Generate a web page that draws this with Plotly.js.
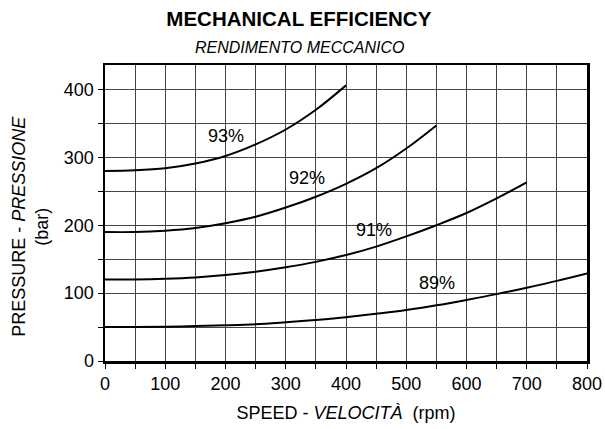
<!DOCTYPE html>
<html>
<head>
<meta charset="utf-8">
<script src="https://cdn.plot.ly/plotly-3.0.1.min.js"></script>
<style>html,body{margin:0;padding:0;background:#fff;}#chart{width:605px;height:429px;}</style>
</head>
<body>
<div id="chart"></div>
<script>
// Speed (rpm) sample points and pressure (bar)
const speed93 = [0, 50, 100, 150, 200, 250, 300, 350, 400];
const press93 = [280, 281, 284, 291, 302, 319, 341, 370, 406];

const speed92 = [0, 50, 100, 150, 200, 250, 300, 350, 400, 450, 500, 550];
const press92 = [190, 190, 192, 196, 203, 212.5, 226, 242, 261, 284, 313, 347];

const speed91 = [0, 50, 100, 150, 200, 250, 300, 350, 400, 450, 500, 550, 600, 650, 700];
const press91 = [120, 120, 121, 123, 126.5, 131.5, 138, 146, 156, 168.5, 183.5, 200, 218, 239.5, 263];

const speed89 = [0, 50, 100, 150, 200, 250, 300, 350, 400, 450, 500, 550, 600, 650, 700, 750, 800];
const press89 = [50, 50, 50.5, 51.5, 52.5, 54, 57, 60.5, 64.5, 69.5, 75, 82, 90, 98.5, 108, 118, 129];

const curveLabels = ["93%", "92%", "91%", "89%"];
const labelSpeed = [200, 335, 447, 551];
const labelPress = [332, 269, 193, 115];

const FONT = "Liberation Sans, Arial, sans-serif";
const lineStyle = {color: "#000", width: 2, shape: "spline", smoothing: 1};

const traces = [
  {x: speed93, y: press93},
  {x: speed92, y: press92},
  {x: speed91, y: press91},
  {x: speed89, y: press89}
].map(t => Object.assign(t, {type: "scatter", mode: "lines", line: lineStyle, hoverinfo: "skip", showlegend: false}));

const annotations = curveLabels.map((t, i) => ({
  x: labelSpeed[i], y: labelPress[i], xref: "x", yref: "y", text: t, showarrow: false,
  font: {family: FONT, size: 18, color: "#000"}
}));

annotations.push({
  xref: "paper", yref: "paper", x: -0.156, y: 0.456, xanchor: "center", yanchor: "middle",
  text: "PRESSURE - <i>PRESSIONE</i><br>(bar)", textangle: -90, showarrow: false,
  font: {family: FONT, size: 18, color: "#000"}
});
annotations.push({
  xref: "paper", yref: "paper", x: 0.404, y: 1.06, xanchor: "center", yanchor: "middle",
  text: "<i>RENDIMENTO MECCANICO</i>", showarrow: false,
  font: {family: FONT, size: 16, color: "#000"}
});

const layout = {
  width: 605, height: 429,
  margin: {l: 105, r: 18, t: 65, b: 68},
  paper_bgcolor: "#fff", plot_bgcolor: "#fff",
  font: {family: FONT, color: "#000"},
  title: {text: "<b>MECHANICAL EFFICIENCY</b>", x: 0.494, xanchor: "center", y: 0.955, yanchor: "middle",
          font: {family: FONT, size: 20.5, color: "#000"}},
  xaxis: {
    range: [0, 800], dtick: 100, tick0: 0,
    showgrid: true, gridcolor: "#444", gridwidth: 1,
    minor: {dtick: 50, showgrid: true, gridcolor: "#444", gridwidth: 1, ticks: "outside", ticklen: 5, tickcolor: "#000"},
    ticks: "outside", ticklen: 5, tickcolor: "#000",
    showline: true, linecolor: "#000", linewidth: 2.5, mirror: true,
    zeroline: false,
    tickfont: {family: FONT, size: 18, color: "#000"},
    title: {text: "SPEED - <i>VELOCITÀ</i>  (rpm)", font: {family: FONT, size: 18, color: "#000"}, standoff: 14}
  },
  yaxis: {
    range: [0, 436], dtick: 100, tick0: 0,
    showgrid: true, gridcolor: "#444", gridwidth: 1,
    minor: {dtick: 50, showgrid: true, gridcolor: "#444", gridwidth: 1, ticks: "outside", ticklen: 5, tickcolor: "#000"},
    ticks: "outside", ticklen: 5, tickcolor: "#000",
    showline: true, linecolor: "#000", linewidth: 2.5, mirror: true,
    zeroline: false,
    tickfont: {family: FONT, size: 18, color: "#000"}
  },
  annotations: annotations
};

Plotly.newPlot("chart", traces, layout, {staticPlot: true, displayModeBar: false});
</script>
</body>
</html>
